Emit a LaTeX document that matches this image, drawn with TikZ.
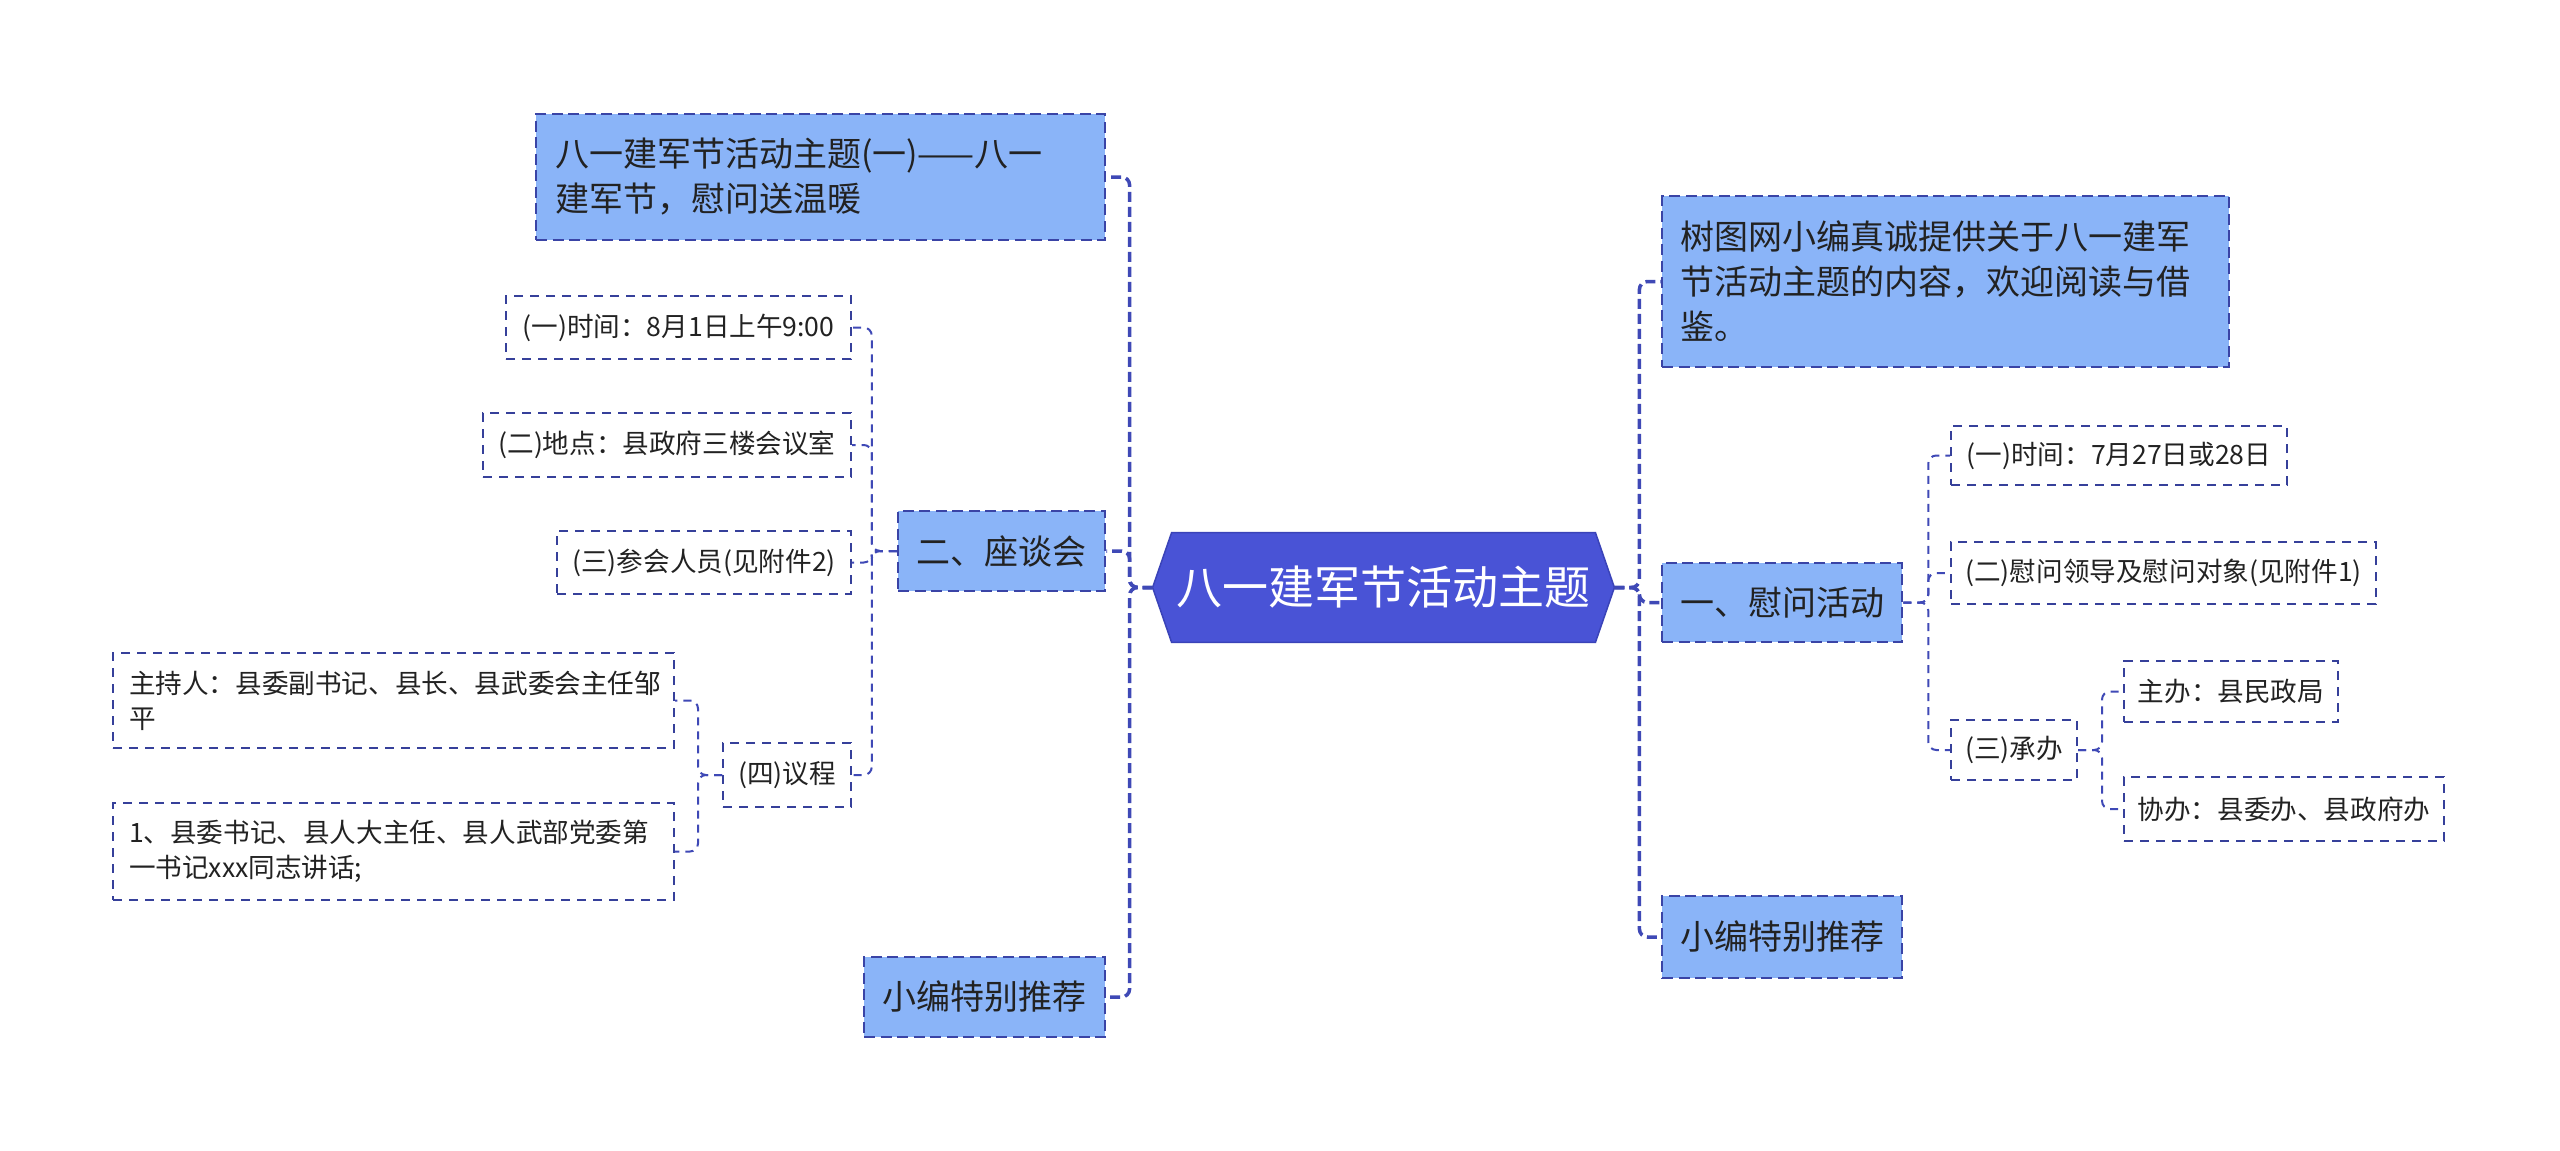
\documentclass[tikz,border=0pt]{standalone}
\usepackage{fontspec}
\setmainfont{Noto Sans CJK SC}
\usetikzlibrary{backgrounds,calc}
\definecolor{rootfill}{HTML}{4953D6}
\definecolor{rootline}{HTML}{3A43B8}
\definecolor{lafill}{HTML}{8AB4F8}
\definecolor{laline}{HTML}{3A44A6}
\definecolor{lbline}{HTML}{36409A}
\definecolor{connc}{HTML}{3F49B6}
\definecolor{txt}{HTML}{222222}
\begin{document}
\begin{tikzpicture}[x=0.5pt,y=-0.5pt,
  rootnode/.style={minimum width=211.5pt,minimum height=54.5pt,inner sep=0pt,text=white,font=\fontsize{23}{28}\selectfont},
  lva/.style={fill=lafill,draw=laline,line width=1.25pt,dash pattern=on 5.5pt off 2.75pt,inner sep=0pt,text=txt,font=\fontsize{17}{22.5}\selectfont},
  lvb/.style={fill=white,draw=lbline,line width=1pt,dash pattern=on 4.7pt off 3.3pt,inner sep=0pt,text=txt,font=\fontsize{13.3}{17.5}\selectfont},
  mainc/.style={draw=connc,line width=1.75pt,dash pattern=on 5pt off 2.5pt,rounded corners=4pt},
  subc/.style={draw=connc,line width=1pt,dash pattern=on 4pt off 3pt,rounded corners=4pt}
]
\useasboundingbox (0,0) rectangle (2560,1151);

% root
\node[rootnode] (root) at (1383.5,587.5) {八一建军节活动主题};
\coordinate (rootL) at ($(root.west)+(-19,0)$);
\coordinate (rootR) at ($(root.east)+(19,0)$);
\begin{scope}[on background layer]
\fill[white] (0,0) rectangle (2560,1151);
\filldraw[fill=rootfill,draw=rootline,line width=0.75pt] (root.north west) -- (root.north east) -- (rootR) -- (root.south east) -- (root.south west) -- (rootL) -- cycle;
\end{scope}

% left level 1
\node[lva,minimum width=284.5pt,minimum height=63pt,text width=265.5pt,inner xsep=9.5pt,align=left] (lt1) at (820.5,177) {八一建军节活动主题(一)——八一\\建军节，慰问送温暖};
\node[lva,minimum width=103.5pt,minimum height=40pt] (zt) at (1001.5,551) {二、座谈会};
\node[lva,minimum width=120.5pt,minimum height=40pt] (xbL) at (984.5,997) {小编特别推荐};

% left level 2
\node[lvb,minimum width=172.5pt,minimum height=31.5pt] (sj1) at (678.5,327.5) {(一)时间：8月1日上午9:00};
\node[lvb,minimum width=184pt,minimum height=32pt] (dd) at (667,445) {(二)地点：县政府三楼会议室};
\node[lvb,minimum width=147pt,minimum height=31.5pt] (ch) at (704,562.5) {(三)参会人员(见附件2)};
\node[lvb,minimum width=64pt,minimum height=32pt] (yc) at (787,775) {(四)议程};
\node[lvb,minimum width=280.5pt,minimum height=47.5pt,text width=264.5pt,inner xsep=8pt,align=left] (zc) at (393.5,700.5) {主持人：县委副书记、县长、县武委会主任邹\\平};
\node[lvb,minimum width=280.5pt,minimum height=48.5pt,text width=264.5pt,inner xsep=8pt,align=left] (js) at (393.5,851.5) {1、县委书记、县人大主任、县人武部党委第\\一书记xxx同志讲话;};

% right level 1
\node[lva,minimum width=283.5pt,minimum height=85.5pt,text width=265.5pt,inner xsep=9pt,align=left] (sm) at (1945.5,281.5) {树图网小编真诚提供关于八一建军\\节活动主题的内容，欢迎阅读与借\\鉴。};
\node[lva,minimum width=120pt,minimum height=39.5pt] (ww) at (1782,602.5) {一、慰问活动};
\node[lva,minimum width=120pt,minimum height=41pt] (xbR) at (1782,937) {小编特别推荐};

% right level 2
\node[lvb,minimum width=168pt,minimum height=29.5pt] (sj2) at (2119,455.5) {(一)时间：7月27日或28日};
\node[lvb,minimum width=212.5pt,minimum height=31pt] (ld) at (2163.5,573) {(二)慰问领导及慰问对象(见附件1)};
\node[lvb,minimum width=63pt,minimum height=30pt] (cb) at (2014,750) {(三)承办};
\node[lvb,minimum width=107pt,minimum height=30.5pt] (zb) at (2231,691.5) {主办：县民政局};
\node[lvb,minimum width=160pt,minimum height=32pt] (xb) at (2284,809) {协办：县委办、县政府办};

% junction coordinates
\coordinate (vL) at ($(rootL)+(-23,0)$);
\coordinate (vR) at ($(rootR)+(25,0)$);
\coordinate (vZ) at ($(zt.west)+(-25,0)$);
\coordinate (vY) at ($(yc.west)+(-24,0)$);
\coordinate (vW) at ($(ww.east)+(25,0)$);
\coordinate (vC) at ($(cb.east)+(24,0)$);

% main connectors
\draw[mainc] (rootL) -- (vL) |- (lt1.east);
\draw[mainc] (rootL) -- (vL) |- (zt.east);
\draw[mainc] (rootL) -- (vL) |- (xbL.east);
\draw[mainc] (rootR) -- (vR) |- (sm.west);
\draw[mainc] (rootR) -- (vR) |- (ww.west);
\draw[mainc] (rootR) -- (vR) |- (xbR.west);

% sub connectors
\draw[subc] (zt.west) -- (vZ) |- (sj1.east);
\draw[subc] (zt.west) -- (vZ) |- (dd.east);
\draw[subc] (zt.west) -- (vZ) |- (ch.east);
\draw[subc] (zt.west) -- (vZ) |- (yc.east);
\draw[subc] (yc.west) -- (vY) |- (zc.east);
\draw[subc] (yc.west) -- (vY) |- (js.east);
\draw[subc] (ww.east) -- (vW) |- (sj2.west);
\draw[subc] (ww.east) -- (vW) |- (ld.west);
\draw[subc] (ww.east) -- (vW) |- (cb.west);
\draw[subc] (cb.east) -- (vC) |- (zb.west);
\draw[subc] (cb.east) -- (vC) |- (xb.west);
\end{tikzpicture}
\end{document}
